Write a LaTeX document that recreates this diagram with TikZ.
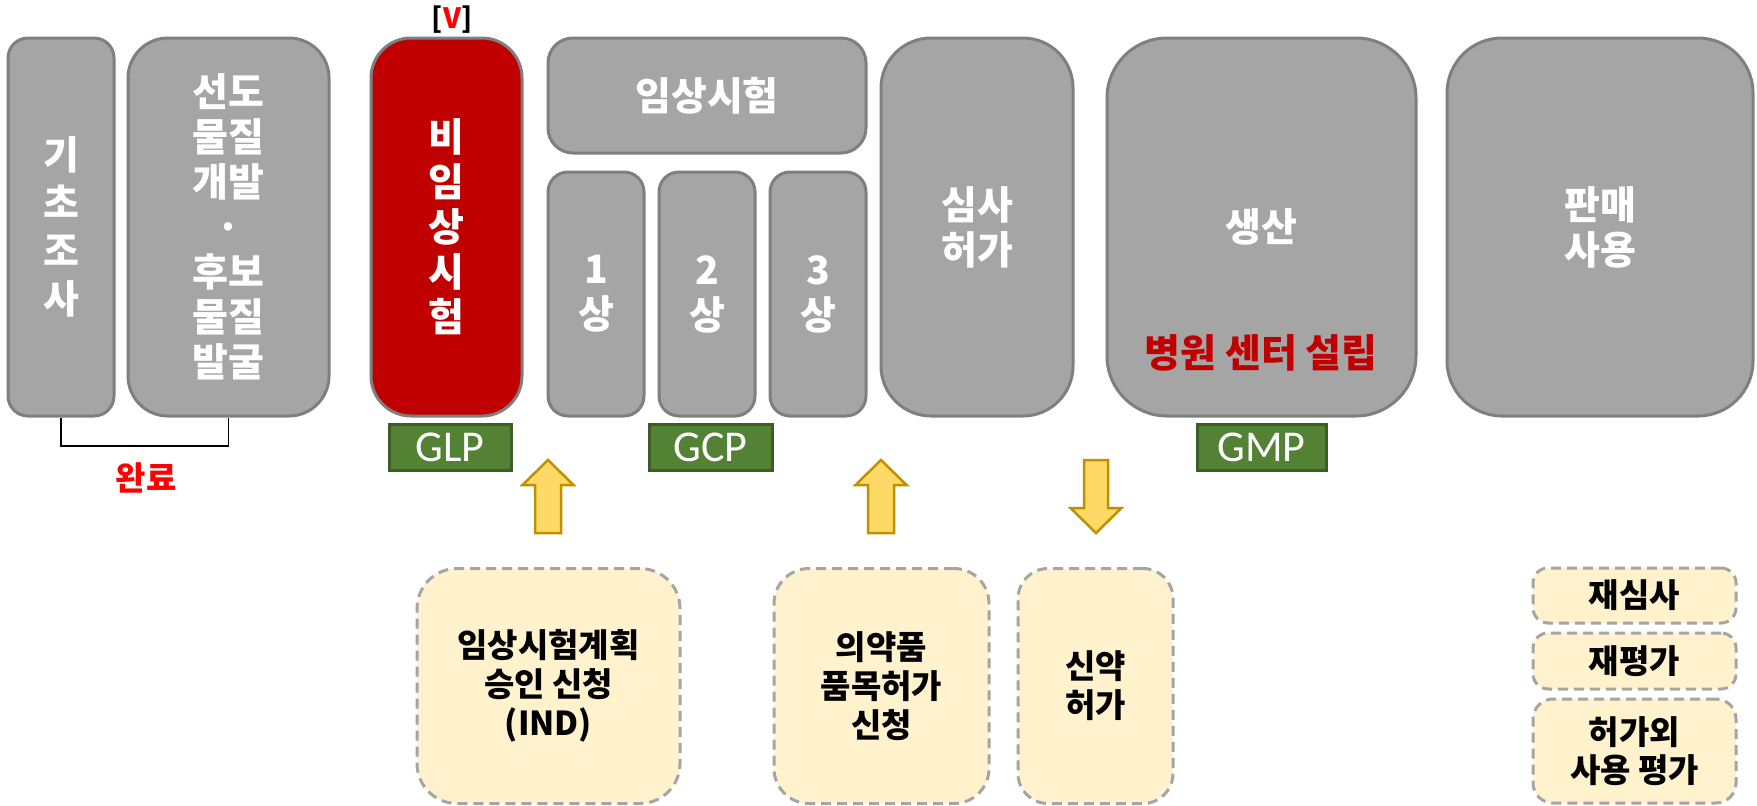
\documentclass[tikz,border=0pt]{standalone}
\usepackage{fontspec}
\newfontfamily\kr{Noto Sans CJK KR}
\newfontfamily\calfont{Carlito}
\definecolor{boxgray}{HTML}{A5A5A5}
\definecolor{bordergray}{HTML}{7F7F7F}
\definecolor{darkred}{HTML}{C00000}
\definecolor{greenfill}{HTML}{548235}
\definecolor{greenborder}{HTML}{3B5E27}
\definecolor{arrowfill}{HTML}{FFD966}
\definecolor{arrowborder}{HTML}{BF9000}
\definecolor{notefill}{HTML}{FFF2CC}
\definecolor{brightred}{HTML}{FF0000}
\tikzset{
  bigfont/.style={font=\kr\bfseries\fontsize{39}{45}\selectfont},
  base/.style={draw=bordergray, line width=3pt, align=center, inner sep=0pt, text=white, bigfont},
  graybox/.style={base, fill=boxgray},
  redbox/.style={base, fill=darkred},
  gbox/.style={draw=greenborder, fill=greenfill, line width=3pt, text=white, inner sep=0pt,
    minimum height=46pt, font=\calfont\fontsize{44}{44}\selectfont},
  notebox/.style={draw=boxgray, fill=notefill, dash pattern=on 10pt off 6pt, line width=3pt,
    text=black, align=center, inner sep=0pt, font=\kr\bfseries\fontsize{33}{39}\selectfont},
  blockarrow/.style={draw=arrowborder, fill=arrowfill, line width=2.5pt, line join=miter},
}
\begin{document}
\begin{tikzpicture}[x=1pt, y=-1pt]
\useasboundingbox (0,0) rectangle (1757,806);

% top row
\node[graybox, minimum width=106pt, minimum height=378pt, rounded corners=20pt, font=\kr\bfseries\fontsize{39}{48}\selectfont] (kicho) at (61,227) {기\\초\\조\\사};
\node[graybox, minimum width=201pt, minimum height=378pt, rounded corners=40pt] (seondo) at (228.5,227) {선도\\물질\\개발\\·\\후보\\물질\\발굴};
\node[redbox, minimum width=151pt, minimum height=378pt, rounded corners=40pt] (bi) at (446.5,227) {비\\임\\상\\시\\험};
\node[graybox, minimum width=318pt, minimum height=115pt, rounded corners=25pt] (imsang) at (707,95.5) {임상시험};
\node[graybox, minimum width=96pt, minimum height=244pt, rounded corners=20pt] (p1) at (596,294) {1\\상};
\node[graybox, minimum width=96pt, minimum height=244pt, rounded corners=20pt] (p2) at (707,294) {2\\상};
\node[graybox, minimum width=96pt, minimum height=244pt, rounded corners=20pt] (p3) at (818,294) {3\\상};
\node[graybox, minimum width=192pt, minimum height=378pt, rounded corners=50pt] (simsa) at (977,227) {심사\\허가};
\node[graybox, minimum width=309pt, minimum height=378pt, rounded corners=60pt] (saengsan) at (1261.5,227) {};
\node[bigfont, text=white] (saengsanlbl) at (1261.5,227) {생산};
\node[bigfont, text=darkred] (hospital) at (1261,353) {병원 센터 설립};
\node[graybox, minimum width=306pt, minimum height=378pt, rounded corners=55pt] (panmae) at (1600,227) {판매\\사용};

% [V] mark
\node[font=\kr\bfseries\fontsize{28}{28}\selectfont, inner sep=0pt] (vmark) at (452,20) {[\textcolor{brightred}{V}]};

% bracket
\draw[line width=1.5pt] (kicho.south) -- (61,446) -- (228.5,446) -- (seondo.south);
\node[font=\kr\bfseries\fontsize{33}{33}\selectfont, text=brightred] (done) at (146,478) {완료};

% green labels
\node[gbox, minimum width=122pt] (glp) at (450,447) {GLP};
\node[gbox, minimum width=123pt] (gcp) at (710.5,447) {GCP};
\node[gbox, minimum width=129pt] (gmp) at (1261.5,447) {GMP};

% block arrows
\draw[blockarrow, shift={(548,0)}] (-13,533) -- (-13,485) -- (-25.5,485) -- (0,460) -- (25.5,485) -- (13,485) -- (13,533) -- cycle;
\draw[blockarrow, shift={(881,0)}] (-13,533) -- (-13,485) -- (-25.5,485) -- (0,460) -- (25.5,485) -- (13,485) -- (13,533) -- cycle;
\draw[blockarrow, shift={(1096,0)}] (-12,460) -- (-12,508) -- (-25.5,508) -- (0,533) -- (25.5,508) -- (12,508) -- (12,460) -- cycle;

% bottom note boxes
\node[notebox, minimum width=263pt, minimum height=235pt, rounded corners=40pt] (ind) at (548.5,686) {임상시험계획\\승인 신청\\(IND)};
\node[notebox, minimum width=215pt, minimum height=235pt, rounded corners=35pt] (yakpum) at (881.5,686) {의약품\\품목허가\\신청};
\node[notebox, minimum width=155pt, minimum height=235pt, rounded corners=30pt] (sinyak) at (1095.5,686) {신약\\허가};
\node[notebox, minimum width=203pt, minimum height=55pt, rounded corners=15pt] (jaesimsa) at (1634.5,595.5) {재심사};
\node[notebox, minimum width=203pt, minimum height=56pt, rounded corners=15pt] (jaepyeong) at (1634.5,661) {재평가};
\node[notebox, minimum width=203pt, minimum height=104pt, rounded corners=20pt, font=\kr\bfseries\fontsize{33}{38}\selectfont] (heoga) at (1634.5,751) {허가외\\사용 평가};
\end{tikzpicture}
\end{document}
